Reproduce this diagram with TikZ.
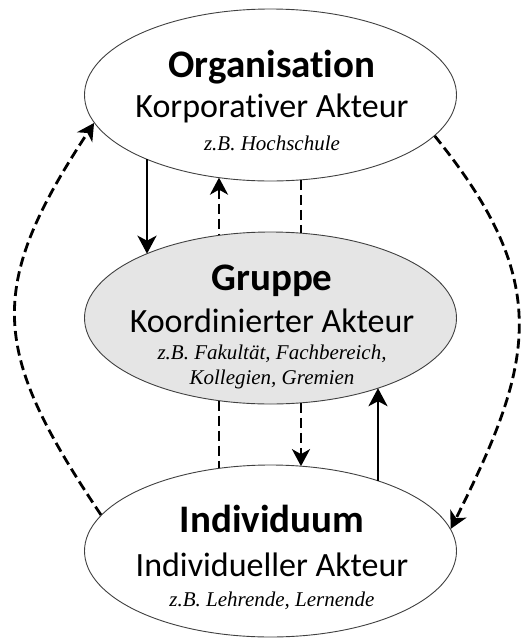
\documentclass[tikz,border=0pt]{standalone}
\usepackage{fontspec}
\newfontfamily\headfont[Ligatures=NoCommon]{Carlito}
\newfontfamily\examplefont{Liberation Serif}
\usetikzlibrary{shapes.geometric,arrows.meta}

% vertical link between two actors, drawn from the upper one to the lower one
% #1 style, #2 x offset from the centre, #3 upper node, #4 lower node
\newcommand\VertLink[4]{%
  \pgfmathsetmacro\dy{86*sqrt(1-(#2/186)^2)}%
  \draw[#1] ([xshift=#2pt,yshift=-\dy pt]#3.center) -- ([xshift=#2pt,yshift=\dy pt]#4.center);
}

\tikzset{
  actor/.style={ellipse, draw=black!75, line width=0.9pt, fill=white,
    minimum width=372pt, minimum height=172pt, inner sep=0pt},
  headline/.style={anchor=base, font=\headfont\bfseries\fontsize{39}{44}\selectfont},
  roleline/.style={anchor=base, font=\headfont\fontsize{34}{38}\selectfont},
  exampleline/.style={anchor=base, font=\examplefont\itshape\fontsize{21}{24}\selectfont},
  strong/.style={line width=2.8pt, -{Stealth[length=18pt,width=19pt,inset=5pt]}},
  strongback/.style={line width=2.8pt, {Stealth[length=18pt,width=19pt,inset=5pt]}-},
  weak/.style={line width=2.8pt, dash pattern=on 10pt off 5pt,
    -{Stealth[length=17pt,width=18pt,inset=5pt]}},
  weakback/.style={line width=2.8pt, dash pattern=on 10pt off 5pt,
    {Stealth[length=17pt,width=18pt,inset=5pt]}-},
  weakline/.style={line width=2.8pt, dash pattern=on 10pt off 5pt},
}

\begin{document}
\begin{tikzpicture}[x=1pt,y=-1pt]
\useasboundingbox (0,0) rectangle (521,638);

% the three actors
\node[actor] (org) at (270.5,95) {};
\node[actor, fill=black!10] (grp) at (270.5,318) {};
\node[actor] (ind) at (270.5,551) {};

\node[headline] (orgHead) at (272,77) {Organisation};
\node[roleline] (orgRole) at (272,117) {Korporativer Akteur};
\node[exampleline] (orgEx) at (272,150) {z.B. Hochschule};

\node[headline] (grpHead) at (272,290) {Gruppe};
\node[roleline] (grpRole) at (272,332) {Koordinierter Akteur};
\node[exampleline] (grpEx) at (272,359) {z.B. Fakultät, Fachbereich,};
\node[exampleline] (grpExb) at (272,384) {Kollegien, Gremien};

\node[headline] (indHead) at (272,532) {Individuum};
\node[roleline] (indRole) at (272,576) {Individueller Akteur};
\node[exampleline] (indEx) at (272,606) {z.B. Lehrende, Lernende};

% links org <-> grp
\VertLink{strong}{-123.5}{org}{grp}
\VertLink{weakback}{-51.5}{org}{grp}
\VertLink{weakline}{30.5}{org}{grp}

% links grp <-> ind
\VertLink{weakline}{-51.5}{grp}{ind}
\VertLink{weak}{30.5}{grp}{ind}
\VertLink{strongback}{107.5}{grp}{ind}

% outer arcs
\draw[weak] (ind.168) .. controls (-8,352) and (-16,290) .. (org.189);
\draw[weak] (org.-14) .. controls (554,283) and (534,363) .. (ind.7);
\end{tikzpicture}
\end{document}
